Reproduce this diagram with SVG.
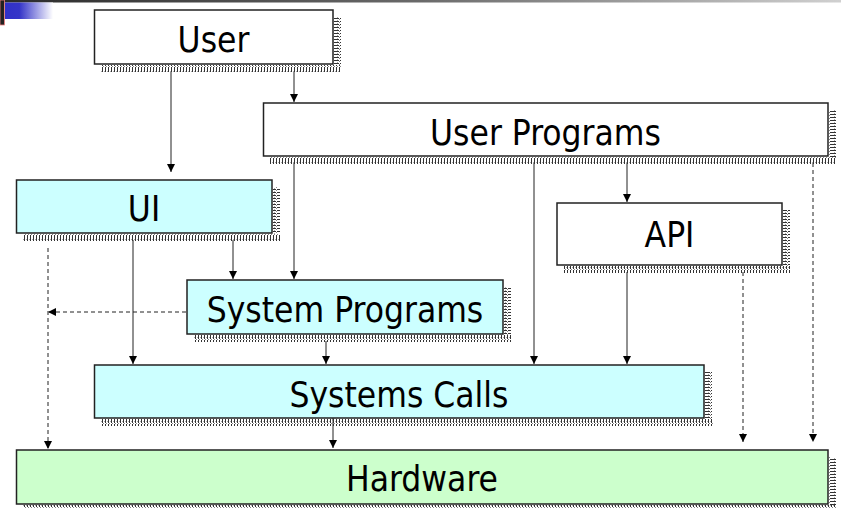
<svg xmlns="http://www.w3.org/2000/svg" width="841" height="508" viewBox="0 0 841 508">
  <defs>
    <linearGradient id="topbar" x1="0" y1="0" x2="1" y2="0">
      <stop offset="0" stop-color="#2a2a2a"/>
      <stop offset="0.5" stop-color="#6a6a6a"/>
      <stop offset="1" stop-color="#d0d0d0"/>
    </linearGradient>
    <linearGradient id="bluefade" x1="0" y1="0" x2="1" y2="0">
      <stop offset="0" stop-color="#3030c8"/>
      <stop offset="0.3" stop-color="#3535c8"/>
      <stop offset="1" stop-color="#ffffff"/>
    </linearGradient>
    <!-- dithered shadow textures -->
    <pattern id="hatchH" patternUnits="userSpaceOnUse" width="3" height="7">
      <rect x="0" y="0" width="1" height="3" fill="#333"/>
      <rect x="0" y="4" width="1" height="3" fill="#333"/>
      <rect x="1" y="3" width="1" height="1" fill="#888"/>
      <rect x="2" y="1" width="1" height="1" fill="#aaa"/>
    </pattern>
    <pattern id="hatchV" patternUnits="userSpaceOnUse" width="7" height="3">
      <rect x="0" y="0" width="3" height="1" fill="#333"/>
      <rect x="4" y="0" width="3" height="1" fill="#333"/>
      <rect x="3" y="1" width="1" height="1" fill="#888"/>
      <rect x="1" y="2" width="1" height="1" fill="#aaa"/>
    </pattern>
    <marker id="arrow" viewBox="0 0 8 8" refX="8" refY="4" markerWidth="8" markerHeight="8" markerUnits="userSpaceOnUse" orient="auto">
      <path d="M0,0 L8,4 L0,8 Z" fill="#000"/>
    </marker>
  </defs>
  <style>
    .box { stroke: #222; stroke-width: 1.5; }
    .plain { fill: #ffffff; }
    .cyan { fill: #ccffff; }
    .green { fill: #ccffcc; }
    .shH { fill: url(#hatchH); }
    .shV { fill: url(#hatchV); }
    .label { font-family: "DejaVu Sans Condensed", "DejaVu Sans", sans-serif; font-stretch: condensed; font-size: 35px; fill: #000; text-anchor: middle; }
    .link { stroke: #222; stroke-width: 1; fill: none; marker-end: url(#arrow); }
    .dash { stroke-dasharray: 4 3; }
  </style>

  <!-- page ornament -->
  <rect x="0" y="0" width="841" height="2.5" fill="url(#topbar)"/>
  <rect x="0" y="0" width="4.5" height="25" fill="#222" stroke="#f08080" stroke-width="0.8"/>
  <rect x="5" y="2.5" width="48" height="16.5" fill="url(#bluefade)"/>

  <g id="connectors">
    <line class="link" x1="171" y1="71" x2="171" y2="172"/>
    <line class="link" x1="294" y1="71" x2="294" y2="102"/>
    <line class="link" x1="294" y1="163" x2="294" y2="279"/>
    <line class="link" x1="534" y1="163" x2="534" y2="364"/>
    <line class="link" x1="627" y1="163" x2="627" y2="202"/>
    <line class="link dash" x1="813" y1="163" x2="813" y2="442"/>
    <line class="link" x1="233" y1="240" x2="233" y2="279"/>
    <line class="link" x1="133" y1="240" x2="133" y2="364"/>
    <line class="link dash" x1="48" y1="248" x2="48" y2="449"/>
    <line class="link dash" x1="186" y1="312" x2="48" y2="312"/>
    <line class="link" x1="326" y1="341" x2="326" y2="364"/>
    <line class="link" x1="627" y1="272" x2="627" y2="364"/>
    <line class="link dash" x1="743" y1="272" x2="743" y2="442"/>
    <line class="link" x1="333" y1="418" x2="333" y2="448"/>
  </g>

  <g id="user">
    <rect class="shH" x="101" y="65" width="240" height="7"/>
    <rect class="shV" x="334" y="17" width="7" height="48"/>
    <rect class="box plain" x="94.5" y="10" width="238.5" height="54"/>
    <text class="label" x="213.5" y="52">User</text>
  </g>

  <g id="user-programs">
    <rect class="shH" x="270" y="157" width="566" height="7"/>
    <rect class="shV" x="829" y="110" width="7" height="47"/>
    <rect class="box plain" x="263.5" y="103" width="564.5" height="53"/>
    <text class="label" x="545.5" y="145">User Programs</text>
  </g>

  <g id="ui">
    <rect class="shH" x="23" y="234" width="257" height="7"/>
    <rect class="shV" x="273" y="187" width="7" height="47"/>
    <rect class="box cyan" x="16.5" y="180" width="255.5" height="53"/>
    <text class="label" x="144" y="221">UI</text>
  </g>

  <g id="api">
    <rect class="shH" x="564" y="266" width="226" height="7"/>
    <rect class="shV" x="783" y="210" width="7" height="56"/>
    <rect class="box plain" x="557" y="203" width="225" height="62"/>
    <text class="label" x="669.5" y="247">API</text>
  </g>

  <g id="system-programs">
    <rect class="shH" x="194" y="335" width="317" height="7"/>
    <rect class="shV" x="504" y="287" width="7" height="48"/>
    <rect class="box cyan" x="187" y="280" width="316" height="54"/>
    <text class="label" x="345" y="322">System Programs</text>
  </g>

  <g id="systems-calls">
    <rect class="shH" x="101" y="419" width="612" height="7"/>
    <rect class="shV" x="705" y="372" width="7" height="47"/>
    <rect class="box cyan" x="94.5" y="365" width="609.5" height="53"/>
    <text class="label" x="399" y="407">Systems Calls</text>
  </g>

  <g id="hardware">
    <rect class="shH" x="23" y="505" width="813" height="3"/>
    <rect class="shV" x="829" y="457" width="7" height="48"/>
    <rect class="box green" x="16.5" y="450" width="811.5" height="54"/>
    <text class="label" x="422" y="491">Hardware</text>
  </g>
</svg>
